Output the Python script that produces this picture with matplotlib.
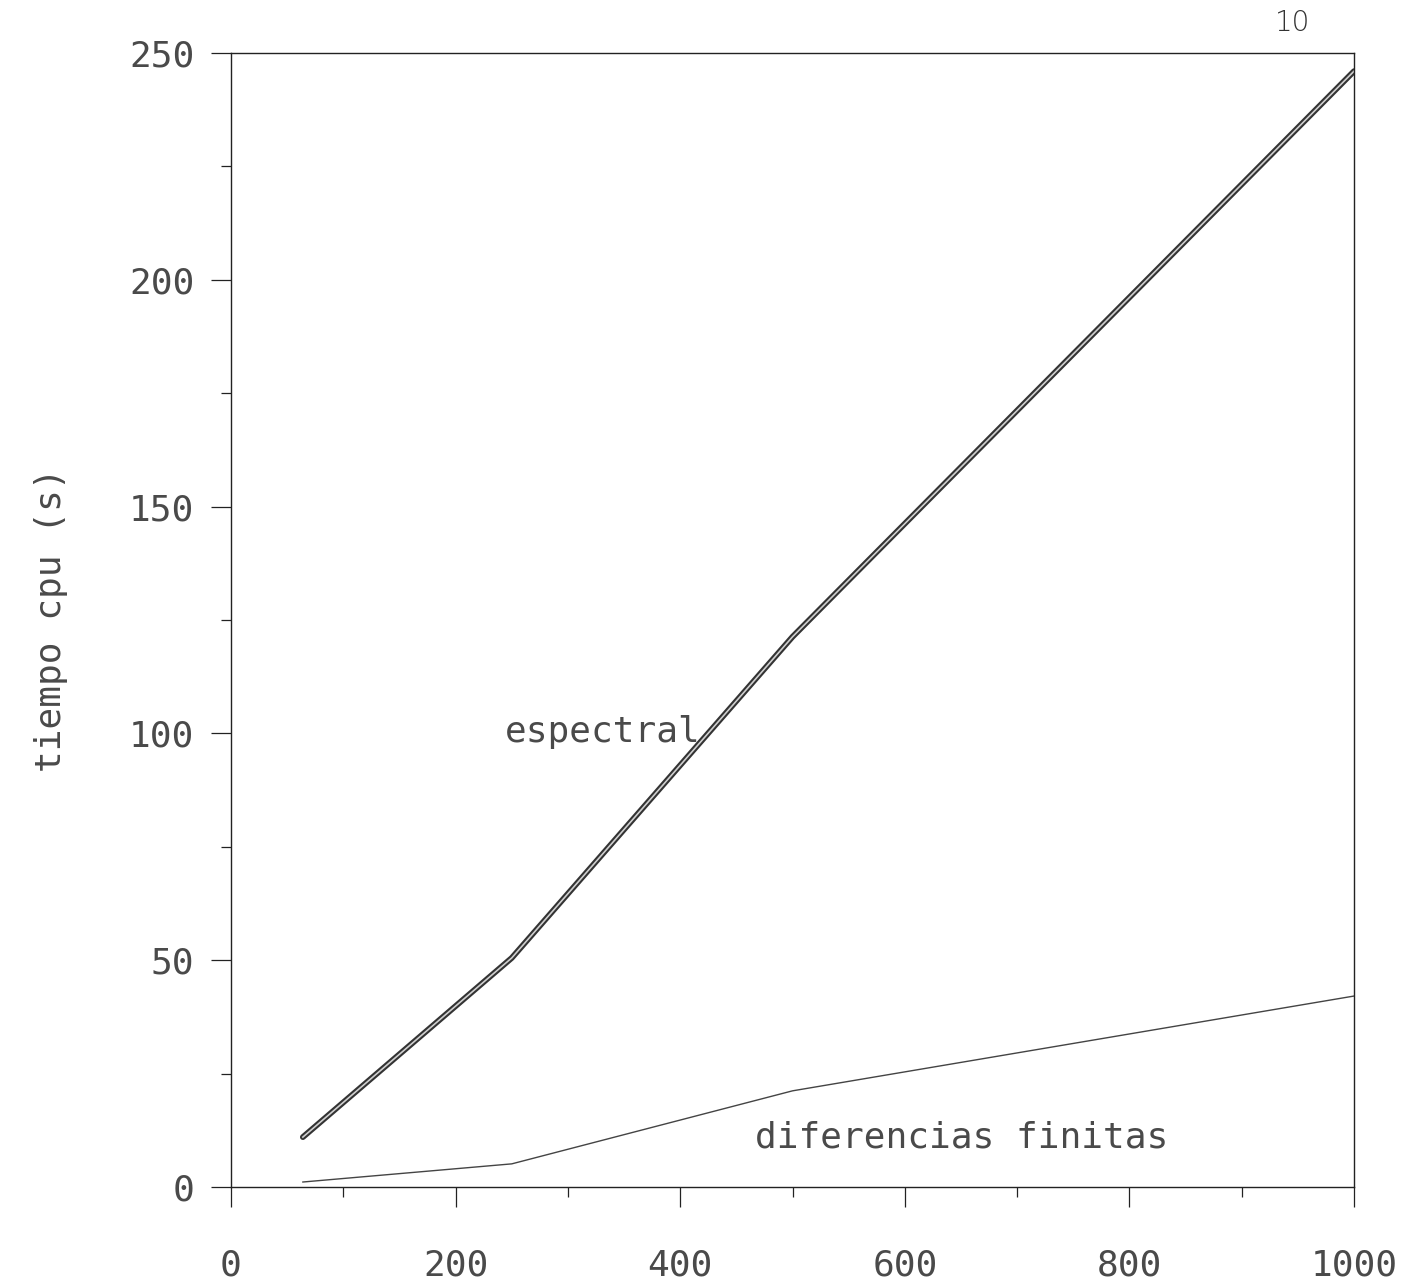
import numpy as np
import matplotlib
matplotlib.use('Agg')
import matplotlib.pyplot as plt
from matplotlib.ticker import MultipleLocator, FixedLocator

# Data
n = [64, 250, 500, 1000]
espectral = [11.0, 50.5, 121.3, 246.0]
diferencias = [1.1, 5.1, 21.2, 42.1]

xticks = [0, 200, 400, 600, 800, 1000]
yticks = [0, 50, 100, 150, 200, 250]

ink = '#222222'
txt = '#4a4a4a'
plt.rcParams['font.family'] = ['DejaVu Sans Mono']

fig = plt.figure(figsize=(14.25, 12.87), dpi=100)
ax = fig.add_axes([0.1621, 0.0777, 0.7881, 0.8811])

# espectral drawn as a double line (thick dark stroke with light core)
ax.plot(n, espectral, color='#333333', lw=4.2, solid_capstyle='round')
ax.plot(n, espectral, color='#cfcfcf', lw=1.2)
ax.plot(n, diferencias, color='#444444', lw=1.0)

ax.set_xlim(0, 1000)
ax.set_ylim(0, 250)

ax.xaxis.set_major_locator(FixedLocator(xticks))
ax.yaxis.set_major_locator(FixedLocator(yticks))
ax.xaxis.set_minor_locator(MultipleLocator(100))
ax.yaxis.set_minor_locator(MultipleLocator(25))
ax.set_xticklabels([str(v) for v in xticks])
ax.set_yticklabels([str(v) for v in yticks])

ax.tick_params(which='major', direction='out', length=14.5, width=0.9,
               color=ink, labelsize=26, labelcolor=txt)
ax.tick_params(which='minor', direction='out', length=7, width=0.9, color=ink)
ax.tick_params(axis='x', which='major', pad=30)
ax.tick_params(axis='y', which='major', pad=12)

for s in ax.spines.values():
    s.set_color(ink)
    s.set_linewidth(1.0)

ax.set_ylabel('tiempo cpu (s)', fontsize=26, color=txt, labelpad=44)

ax.text(244, 98, 'espectral', fontsize=26, color=txt, va='baseline')
ax.text(467, 8.8, 'diferencias finitas', fontsize=26, color=txt, va='baseline')

# handwritten page number
fig.text(0.907, 0.982, '10', fontsize=20, color='#333333', ha='center', va='center',
         family='DejaVu Sans', weight='light')

fig.savefig('out.png', dpi=100, facecolor='white')
